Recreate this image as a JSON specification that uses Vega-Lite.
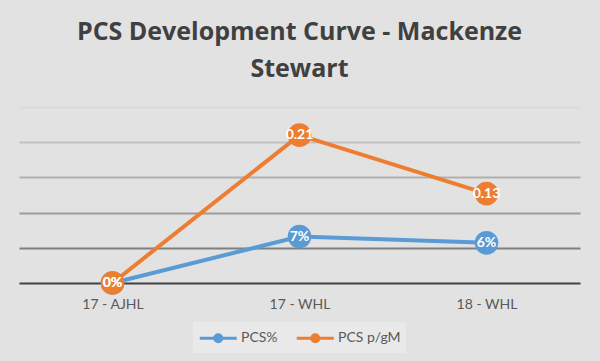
{
  "$schema": "https://vega.github.io/schema/vega-lite/v6.json",
  "width": 561,
  "height": 176,
  "autosize": {"type": "none"},
  "padding": {"left": 19, "top": 107, "right": 20, "bottom": 78},
  "background": "#e2e2e2",
  "title": {
    "text": ["PCS Development Curve - Mackenze", "Stewart"],
    "font": "Open Sans",
    "fontSize": 25,
    "fontWeight": "bold",
    "color": "#404040",
    "anchor": "middle",
    "lineHeight": 37,
    "offset": 25
  },
  "data": {
    "values": [
      {"season": "17 - AJHL", "series": "PCS%", "value": 0, "label": "0%"},
      {"season": "17 - WHL", "series": "PCS%", "value": 0.066, "label": "7%"},
      {"season": "18 - WHL", "series": "PCS%", "value": 0.057, "label": "6%"},
      {"season": "17 - AJHL", "series": "PCS p/gM", "value": 0, "label": "0%"},
      {"season": "17 - WHL", "series": "PCS p/gM", "value": 0.21, "label": "0.21"},
      {"season": "18 - WHL", "series": "PCS p/gM", "value": 0.127, "label": "0.13"}
    ]
  },
  "encoding": {
    "x": {
      "field": "season",
      "type": "nominal",
      "sort": null,
      "axis": {
        "title": null,
        "labelAngle": 0,
        "ticks": false,
        "domain": true,
        "domainColor": "#404040",
        "domainWidth": 2,
        "labelFont": "Lato",
        "labelFontSize": 14,
        "labelColor": "#595959",
        "labelPadding": 14,
        "grid": false
      }
    },
    "y": {
      "field": "value",
      "type": "quantitative",
      "scale": {"domain": [0, 0.25], "nice": false},
      "axis": {
        "title": null,
        "labels": false,
        "ticks": false,
        "domain": false,
        "grid": true,
        "values": [0.05, 0.1, 0.15, 0.2, 0.25],
        "gridWidth": 2,
        "gridColor": {
          "condition": [
            {"test": "datum.value >= 0.24", "value": "#dadada"},
            {"test": "datum.value >= 0.19", "value": "#c2c2c2"},
            {"test": "datum.value >= 0.14", "value": "#b0b0b0"},
            {"test": "datum.value >= 0.09", "value": "#9c9c9c"}
          ],
          "value": "#7f7f7f"
        }
      }
    },
    "color": {
      "field": "series",
      "type": "nominal",
      "sort": null,
      "scale": {"domain": ["PCS%", "PCS p/gM"], "range": ["#5b9bd5", "#ed7d31"]},
      "legend": {
        "title": null,
        "orient": "bottom",
        "direction": "horizontal",
        "fillColor": "#e9e9e9",
        "padding": 5,
        "offset": 11,
        "labelFont": "Lato",
        "labelFontSize": 14,
        "labelColor": "#595959",
        "labelOffset": 21,
        "columnPadding": 12,
        "symbolType": "M-1,0L3,0M0.62,0a0.38,0.38 0 1,0 0.76,0a0.38,0.38 0 1,0 -0.76,0",
        "symbolSize": 342,
        "symbolStrokeWidth": 3,
        "encode": {
          "symbols": {
            "update": {
              "fill": {"scale": "color", "field": "value"},
              "stroke": {"scale": "color", "field": "value"},
              "opacity": {"value": 1}
            }
          }
        }
      }
    }
  },
  "layer": [
    {"mark": {"type": "line", "strokeWidth": 4}},
    {"mark": {"type": "point", "filled": true, "size": 560, "opacity": 1}},
    {
      "mark": {"type": "text", "color": "white", "font": "Lato", "fontSize": 14, "fontWeight": "bold"},
      "encoding": {"text": {"field": "label"}, "color": {"value": "white"}}
    }
  ],
  "config": {
    "view": {"stroke": null},
    "legend": {"layout": {"bottom": {"anchor": "middle"}}}
  }
}
